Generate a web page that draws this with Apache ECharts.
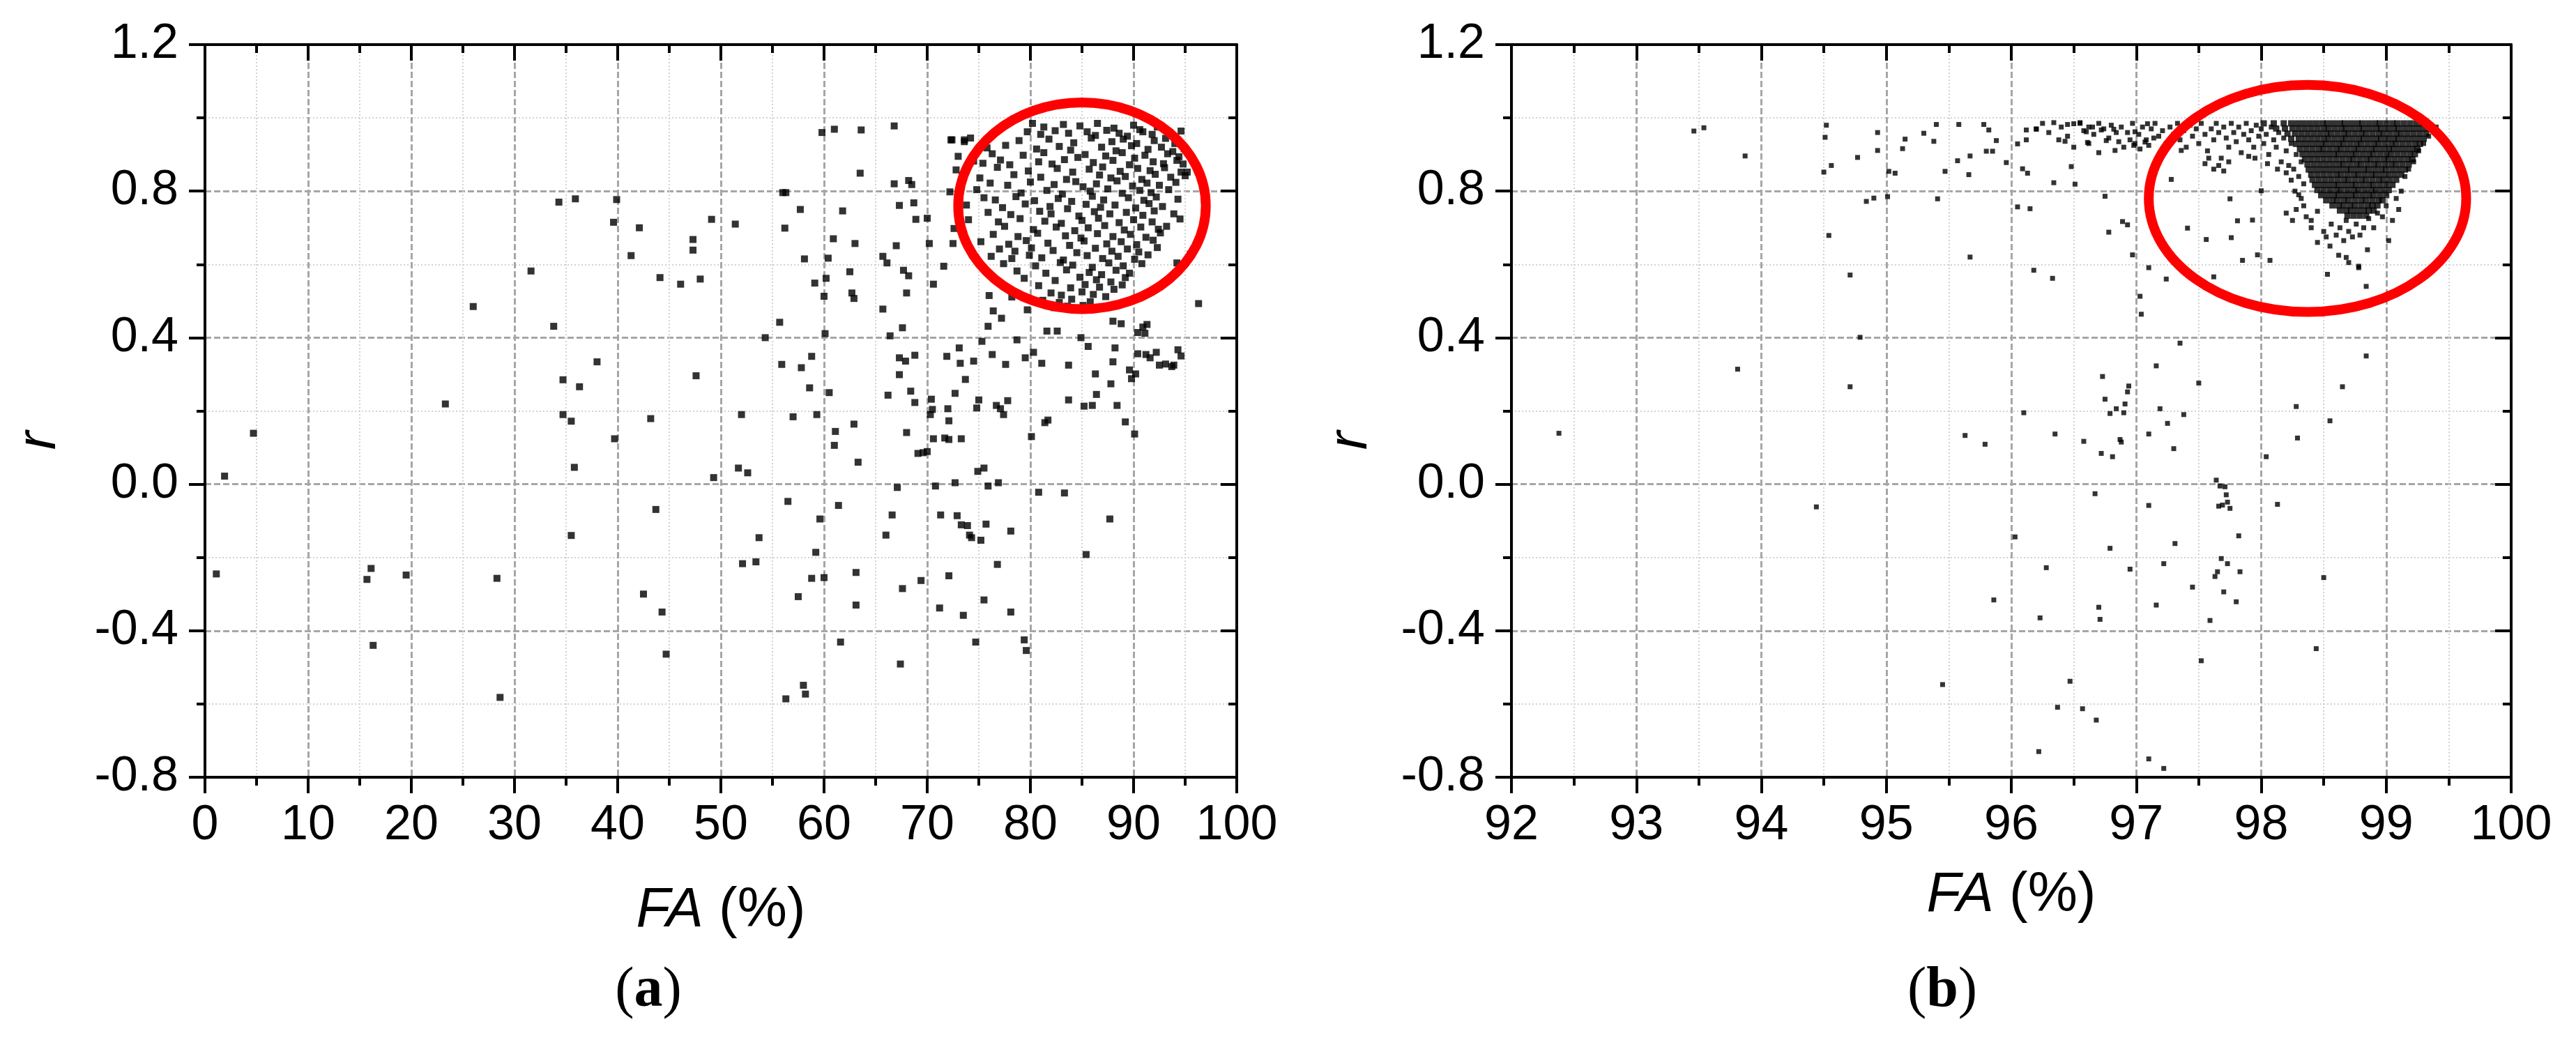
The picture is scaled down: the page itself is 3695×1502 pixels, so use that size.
<!DOCTYPE html>
<html>
<head>
<meta charset="utf-8">
<title>FA vs r</title>
<script src="https://cdn.jsdelivr.net/npm/echarts@6/dist/echarts.min.js"></script>
<style>
  html, body { margin: 0; padding: 0; background: #fff; }
  #chart { width: 3695px; height: 1502px; }
</style>
</head>
<body>
<div id="chart"></div>
<script>
// panel (a): FA from 0 to 100 %
const xTicksA = [0, 100, 10];
// panel (b): FA from 92 to 100 %
const xTicksB = [92, 100, 1];
const yTicks = [-0.8, 1.2, 0.4];

// panel (a), scattered points [FA, r]
const leftSparse = [
  [1.1,-0.245],[1.9,0.022],[4.7,0.139],[15.7,-0.26],[16.1,-0.23],[16.3,-0.44],[19.5,-0.248],[23.3,0.219],
  [26.0,0.485],[28.3,-0.257],[28.6,-0.582],[31.6,0.582],[33.8,0.431],[34.3,0.77],[34.7,0.285],[34.7,0.19],
  [35.5,0.172],[35.9,0.779],[35.8,0.046],[35.5,-0.14],[36.3,0.266],[38.0,0.334],[39.6,0.715],[39.9,0.777],
  [39.7,0.124],[41.3,0.624],[42.1,0.7],[42.5,-0.30],[43.2,0.179],[43.7,-0.069],[44.1,0.564],[44.3,-0.349],
  [44.7,-0.464],[46.1,0.546],[47.3,0.668],[47.3,0.639],[47.6,0.296],[48.0,0.56],[49.1,0.723],[49.3,0.018],
  [51.4,0.71],[51.7,0.044],[52.0,0.19],[52.1,-0.217],[52.6,0.031],[53.4,-0.212],[53.7,-0.146],[54.3,0.40],
  [55.7,0.442],[55.9,0.327],[56.0,0.796],[56.3,0.796],[56.2,0.699],[56.3,-0.586],[56.5,-0.047],[57.0,0.184],
  [57.5,-0.307],[57.7,0.75],[57.8,0.318],[58.0,-0.549],[58.2,-0.573],[58.1,0.615],[58.6,0.263],[58.8,0.349],
  [58.8,-0.257],[59.2,-0.186],[59.1,0.549],[59.3,0.19],[59.6,-0.095],[59.8,0.96],[60.0,-0.255],[60.0,0.513],
  [60.1,0.411],[60.2,0.562],[60.4,0.617],[60.5,0.25],[60.9,0.67],[61.0,0.969],[61.0,0.106],[61.1,0.144],
  [61.4,-0.058],[61.6,-0.431],[61.8,0.746],[62.5,0.58],[62.7,0.522],[62.9,0.507],[62.9,0.164],[63.0,0.657],
  [63.1,-0.241],[63.1,-0.33],[63.3,0.06],[63.6,0.967],[63.5,0.849],[65.7,0.478],[65.7,0.622],[66.1,0.604],
  [66.0,-0.139],[66.2,0.243],[66.4,0.405],[66.6,-0.084],[66.8,0.978],[66.8,0.82],[67.0,0.651],[67.1,-0.009],
  [67.3,0.761],[67.3,0.299],[67.3,0.345],[67.4,-0.491],[67.6,0.427],[67.6,-0.285],[67.7,0.584],[67.9,0.336],
  [68.0,0.522],[68.0,0.141],[68.2,0.829],[68.2,0.569],[68.4,0.254],[68.5,0.818],[68.7,0.768],[68.8,0.223],
  [68.8,0.352],[68.9,0.723],[69.1,0.084],[69.4,-0.263],[69.6,0.086],[70.0,0.089],[70.0,0.726],[70.2,0.657],
  [70.3,0.19],[70.4,0.232],[70.5,0.204],[70.6,0.546],[70.6,0.124],[70.8,-0.005],[71.2,-0.338],[71.3,-0.084],
  [71.6,0.595],[71.7,0.126],[71.9,0.349],[72.0,0.206],[72.1,-0.25],[72.1,0.122],[72.1,0.173],[72.3,0.94],
  [72.5,0.657],[72.7,0.248],[72.7,0.004],[72.9,-0.086],[73.1,0.372],[73.2,0.33],[73.3,0.124],[73.3,-0.111],
  [73.5,-0.358],[73.6,0.94],[73.7,0.286],[73.9,-0.113],[74.1,-0.139],[74.3,-0.146],[74.5,0.336],[74.7,-0.431],
  [74.8,0.208],[74.9,0.035],[75.0,0.23],[75.2,-0.153],[75.3,0.39],[75.5,-0.316],[75.5,0.044],[75.7,-0.109],
  [75.9,-0.005],[75.9,0.431],[76.0,0.515],[76.3,0.354],[76.4,0.473],[76.7,0.215],[76.8,-0.219],[76.9,0.004],
  [77.1,0.206],[77.2,0.453],[77.4,0.19],[77.6,0.327],[77.8,0.228],[78.1,-0.128],[78.1,-0.349],[78.2,0.511],
  [78.7,0.394],[79.4,-0.425],[79.5,0.345],[79.6,-0.454],[79.7,0.476],[80.1,0.13],[80.3,0.36],[80.8,-0.022],
  [81.1,0.33],[81.4,0.168],[81.7,0.175],[81.6,0.418],[82.6,0.418],[83.3,-0.024],[83.7,0.325],[83.7,0.23],
  [84.9,0.40],[85.2,0.213],[85.6,0.376],[85.4,-0.192],[86.0,0.215],[86.3,0.301],[86.4,0.245],[87.7,-0.095],
  [87.8,0.274],[88.0,0.334],[88.0,0.445],[88.2,0.372],[88.4,0.215],[88.8,0.438],[89.2,0.17],[89.6,0.312],
  [89.8,0.288],[90.1,0.137],[90.2,0.301],[90.4,0.356],[90.4,0.414],[90.9,0.429],[91.1,0.412],[91.3,0.436],
  [91.2,0.354],[91.6,0.345],[92.2,0.36],[92.5,0.325],[93.1,0.328],[93.7,0.321],[93.9,0.325],[94.3,0.367],
  [94.6,0.35],[95.5,0.628],[96.3,0.493],[94.2,0.604],[95.2,0.852],[94.8,0.874],[94.6,0.964]
];

// panel (a), crowded points inside the circle
const leftCluster = [
  [80.2,0.985],[81.3,0.975],[83.2,0.982],[84.8,0.978],[86.5,0.985],[88.1,0.972],[90.0,0.98],[90.6,0.968],[92.3,0.975],
  [79.7,0.962],[81.0,0.955],[82.4,0.965],[83.7,0.958],[85.5,0.962],[86.3,0.952],[87.4,0.966],[88.6,0.958],[89.4,0.95],
  [90.9,0.962],[91.8,0.955],[93.5,0.96],[72.4,0.94],[73.6,0.935],[74.2,0.945],[78.9,0.938],[81.8,0.942],[84.2,0.932],
  [85.9,0.945],[87.9,0.935],[89.0,0.942],[90.3,0.93],[92.0,0.938],[93.1,0.944],[94.0,0.93],[75.8,0.918],[77.6,0.925],
  [80.6,0.915],[82.8,0.922],[83.9,0.912],[86.9,0.92],[88.3,0.91],[89.8,0.924],[91.4,0.914],[92.7,0.92],[93.8,0.908],
  [94.9,0.916],[73.0,0.895],[76.3,0.902],[79.3,0.898],[81.3,0.905],[84.6,0.892],[85.3,0.9],[87.3,0.896],[88.9,0.905],
  [90.1,0.89],[91.1,0.898],[93.3,0.902],[94.4,0.894],[74.5,0.882],[75.4,0.876],[77.1,0.885],[78.0,0.872],[80.8,0.88],
  [82.1,0.874],[83.3,0.886],[86.1,0.878],[88.0,0.884],[89.6,0.872],[91.9,0.88],[92.9,0.875],[94.2,0.884],[72.8,0.858],
  [76.8,0.865],[79.8,0.855],[82.6,0.862],[84.1,0.852],[85.7,0.86],[87.0,0.866],[88.7,0.854],[90.4,0.862],[91.6,0.856],
  [93.0,0.864],[94.6,0.852],[73.4,0.842],[75.1,0.836],[78.4,0.845],[81.0,0.838],[83.5,0.832],[86.7,0.844],[87.8,0.836],
  [89.2,0.84],[90.8,0.832],[92.1,0.846],[93.6,0.838],[95.0,0.842],[76.1,0.822],[77.8,0.816],[80.0,0.825],[82.3,0.818],
  [84.4,0.826],[85.1,0.812],[86.4,0.82],[88.4,0.828],[89.9,0.814],[91.3,0.822],[92.5,0.816],[94.1,0.824],[72.2,0.798],
  [74.8,0.804],[79.1,0.795],[81.6,0.802],[83.1,0.792],[85.8,0.8],[87.5,0.806],[88.9,0.794],[90.6,0.802],[91.7,0.796],
  [93.4,0.804],[75.5,0.782],[76.6,0.776],[78.6,0.785],[80.4,0.774],[82.7,0.78],[84.0,0.772],[86.0,0.786],[87.1,0.776],
  [89.5,0.782],[91.0,0.775],[92.2,0.784],[94.3,0.778],[73.8,0.762],[77.3,0.755],[79.5,0.765],[81.9,0.758],[83.6,0.752],
  [85.4,0.764],[86.8,0.756],[88.2,0.762],[90.2,0.754],[91.5,0.766],[92.8,0.758],[75.9,0.742],[78.1,0.736],[80.9,0.745],
  [82.0,0.738],[84.7,0.732],[86.2,0.744],[87.7,0.738],[89.3,0.742],[90.9,0.734],[92.0,0.746],[93.9,0.738],[74.0,0.722],
  [76.9,0.716],[79.0,0.725],[81.4,0.718],[83.0,0.712],[85.0,0.72],[86.6,0.726],[88.6,0.714],[90.0,0.722],[91.8,0.716],
  [94.5,0.724],[72.6,0.698],[77.5,0.704],[80.3,0.695],[82.5,0.702],[84.3,0.692],[85.6,0.7],[87.2,0.706],[89.1,0.694],
  [90.7,0.702],[92.4,0.696],[93.2,0.704],[76.4,0.682],[78.8,0.676],[80.7,0.685],[83.4,0.678],[84.9,0.672],[86.5,0.684],
  [88.0,0.676],[89.7,0.682],[91.2,0.674],[92.6,0.686],[75.2,0.662],[77.9,0.655],[79.6,0.665],[81.7,0.658],[83.8,0.652],
  [85.2,0.664],[87.4,0.656],[88.8,0.662],[90.3,0.654],[91.9,0.666],[77.0,0.642],[78.5,0.636],[80.1,0.645],[82.2,0.638],
  [84.5,0.632],[86.3,0.644],[87.9,0.636],[89.4,0.642],[90.5,0.634],[92.3,0.646],[76.2,0.622],[78.2,0.616],[79.9,0.625],
  [81.1,0.618],[83.2,0.612],[85.5,0.624],[87.0,0.616],[88.5,0.622],[90.1,0.614],[91.4,0.626],[77.4,0.602],[80.5,0.596],
  [82.9,0.605],[84.1,0.598],[86.0,0.592],[87.6,0.604],[89.0,0.596],[90.8,0.602],[78.7,0.582],[81.5,0.576],[83.5,0.585],
  [85.7,0.578],[86.9,0.572],[88.3,0.584],[89.6,0.576],[79.4,0.562],[82.4,0.556],[84.8,0.565],[86.4,0.558],[87.8,0.552],
  [89.2,0.564],[80.8,0.542],[83.9,0.536],[85.3,0.545],[86.7,0.538],[88.1,0.532],[88.9,0.544],[82.0,0.522],[83.0,0.516],
  [85.0,0.525],[86.1,0.518],[87.3,0.512],[81.2,0.502],[82.8,0.496],[84.0,0.505],[85.8,0.498],[82.3,0.482],[83.6,0.486],
  [84.6,0.478],[85.1,0.488]
];

// panel (b), scattered points [FA, r]
const rightSparse = [
  [92.38,0.139],[93.46,0.964],[93.54,0.973],[93.81,0.314],[93.87,0.896],[94.44,-0.062],[94.50,0.852],[94.51,0.947],
  [94.52,0.98],[94.54,0.679],[94.56,0.87],[94.71,0.571],[94.71,0.266],[94.77,0.892],[94.79,0.401],[94.84,0.772],
  [94.90,0.781],[94.93,0.96],[94.93,0.911],[95.01,0.785],[95.02,0.854],[95.07,0.849],[95.13,0.916],[95.15,0.942],
  [95.30,0.958],[95.38,0.936],[95.40,0.982],[95.41,0.779],[95.45,-0.547],[95.47,0.854],[95.57,0.883],[95.58,0.982],
  [95.63,0.133],[95.66,0.845],[95.67,0.62],[95.67,0.896],[95.78,0.982],[95.79,0.109],[95.80,0.909],[95.82,0.967],
  [95.85,0.909],[95.86,-0.316],[95.88,0.938],[95.96,0.878],[96.03,-0.144],[96.05,0.929],[96.05,0.757],[96.09,0.861],
  [96.10,0.195],[96.12,0.94],[96.12,0.967],[96.13,0.849],[96.15,0.752],[96.18,0.584],[96.20,0.969],[96.22,-0.73],
  [96.23,-0.365],[96.28,-0.228],[96.33,0.562],[96.34,0.823],[96.35,0.137],[96.34,0.987],[96.37,-0.609],[96.38,0.94],
  [96.43,0.936],[96.45,0.982],[96.47,-0.538],[96.48,0.867],[96.50,0.984],[96.51,0.819],[96.55,0.987],[96.57,-0.613],
  [96.58,0.117],[96.60,0.962],[96.61,0.933],[96.65,0.975],[96.67,-0.026],[96.68,-0.644],[96.70,-0.336],[96.71,-0.369],
  [96.72,0.084],[96.72,0.967],[96.73,0.294],[96.75,0.786],[96.75,0.232],[96.76,0.938],[96.78,0.688],[96.79,-0.175],
  [96.79,0.193],[96.81,0.075],[96.82,0.969],[96.83,0.911],[96.84,0.206],[96.87,0.122],[96.88,0.115],[96.89,0.717],
  [96.90,0.195],[96.91,0.219],[96.93,0.708],[96.93,0.252],[96.94,0.268],[96.95,-0.232],[96.97,0.626],[96.98,0.925],
  [96.99,0.962],[97.03,0.513],[97.04,0.464],[97.07,0.934],[97.09,0.984],[97.10,-0.058],[97.10,-0.75],[97.10,0.591],
  [97.10,0.137],[97.16,0.323],[97.16,-0.33],[97.19,0.206],[97.22,-0.217],[97.22,-0.776],[97.24,0.56],[97.25,0.166],
  [97.28,0.832],[97.30,0.097],[97.31,-0.162],[97.35,0.385],[97.38,0.19],[97.41,0.699],[97.45,-0.281],[97.50,0.276],
  [97.52,-0.482],[97.56,0.668],[97.59,-0.372],[97.62,0.566],[97.63,-0.252],[97.64,0.011],[97.65,-0.239],[97.66,-0.06],
  [97.67,-0.005],[97.68,-0.203],[97.69,-0.057],[97.70,-0.294],[97.71,-0.007],[97.72,-0.029],[97.73,-0.049],[97.73,-0.217],
  [97.75,-0.066],[97.76,0.673],[97.75,0.779],[97.80,-0.321],[97.81,0.719],[97.82,-0.141],[97.83,-0.239],[97.85,0.611],
  [97.93,0.721],[97.97,0.626],[98.00,0.801],[98.04,0.075],[98.07,0.611],[98.13,-0.055],[98.28,0.212],[98.29,0.126],
  [98.44,-0.449],[98.50,-0.255],[98.53,0.573],[98.55,0.173],[98.65,0.266],[98.78,0.591],[98.84,0.540],[98.84,0.350],
  [98.68,0.619]
];

// panel (b), the dotted band along the top
const rightBand = [
  [96.20,0.97],[96.25,0.985],[96.30,0.96],[96.40,0.975],[96.45,0.95],[96.50,0.92],[96.55,0.985],[96.58,0.965],
  [96.62,0.975],[96.62,0.93],[96.66,0.955],[96.70,0.985],[96.70,0.905],[96.74,0.97],[96.78,0.945],[96.80,0.98],
  [96.84,0.96],[96.86,0.935],[96.88,0.975],[96.90,0.92],[96.93,0.96],[96.95,0.94],[96.97,0.985],[96.99,0.93],
  [97.02,0.955],[97.03,0.915],[97.05,0.975],[97.08,0.94],[97.10,0.925],[97.12,0.97],[97.14,0.945],[97.15,0.985],
  [97.18,0.95],[97.21,0.965],[97.24,0.93],[97.27,0.975],[97.30,0.955],[97.33,0.985],[97.35,0.94],[97.36,0.911],
  [97.38,0.965],[97.40,0.92],[97.43,0.98],[97.45,0.95],[97.48,0.97],[97.50,0.93],[97.52,0.985],[97.55,0.955],
  [97.55,0.875],[97.57,0.91],[97.58,0.89],[97.60,0.97],[97.62,0.94],[97.62,0.86],[97.64,0.985],[97.66,0.96],
  [97.66,0.87],[97.68,0.89],[97.70,0.975],[97.70,0.855],[97.72,0.945],[97.74,0.92],[97.74,0.88],[97.76,0.985],
  [97.78,0.96],[97.80,0.935],[97.82,0.975],[97.84,0.905],[97.86,0.955],[97.88,0.985],[97.90,0.94],[97.90,0.895],
  [97.92,0.965],[97.94,0.92],[97.95,0.89],[97.96,0.98],[97.98,0.95],[98.00,0.97],[98.02,0.93],[98.04,0.955],
  [98.05,0.875],[98.06,0.90],[98.08,0.975],[98.10,0.94],[98.12,0.92],[98.13,0.86],[98.14,0.96],[98.16,0.88],
  [98.18,0.945],[98.20,0.91],[98.20,0.85],[98.22,0.87],[98.24,0.93],[98.24,0.83],[98.26,0.86],[98.27,0.80],
  [98.28,0.90],[98.30,0.84],[98.30,0.79],[98.32,0.88],[98.34,0.82],[98.34,0.76]
];

// panel (b), loose points round the solid block
const rightEdge = [
  [98.32,0.78],[98.36,0.73],[98.40,0.70],[98.45,0.745],[98.50,0.69],[98.52,0.675],[98.56,0.71],[98.60,0.68],
  [98.63,0.70],[98.66,0.665],[98.68,0.72],[98.70,0.69],[98.73,0.675],[98.76,0.71],[98.79,0.68],[98.82,0.70],
  [98.86,0.725],[98.90,0.70],[98.93,0.74],[98.97,0.73],[99.00,0.76],[99.02,0.665],[99.05,0.72],[99.08,0.78],
  [99.10,0.75],[99.12,0.80],[99.15,0.84],[99.18,0.86],[99.22,0.88],[99.26,0.91],[99.30,0.93],[99.34,0.95],
  [99.38,0.965],[99.40,0.975],[98.62,0.625],[98.70,0.605],[98.78,0.595],[98.85,0.64],[98.55,0.65],[98.45,0.66],
  [98.40,0.72],[98.28,0.75],[98.25,0.72],[98.20,0.74]
];

// panel (b), the solid black block: each row is [r, FA, FA, ...]
const rightDenseRows = [
  [0.985, 98.02,98.10,98.18,98.24,98.29,98.34,98.39,98.44,98.49,98.53,98.58,98.63,98.67,98.72,98.77,98.81,98.86,98.91,98.95,99.00,99.05,99.09,99.14,99.19,99.24,99.29],
  [0.971, 98.12,98.19,98.25,98.30,98.35,98.40,98.45,98.50,98.54,98.59,98.64,98.68,98.73,98.78,98.82,98.87,98.92,98.96,99.01,99.06,99.10,99.15,99.20,99.25,99.30,99.35],
  [0.957, 98.21,98.27,98.32,98.37,98.42,98.47,98.52,98.56,98.61,98.66,98.70,98.75,98.80,98.84,98.89,98.94,98.98,99.03,99.08,99.12,99.17,99.22,99.27,99.32],
  [0.943, 98.24,98.30,98.35,98.40,98.45,98.50,98.54,98.59,98.64,98.68,98.73,98.78,98.82,98.87,98.92,98.96,99.01,99.06,99.10,99.15,99.20,99.25,99.30],
  [0.929, 98.28,98.33,98.38,98.43,98.48,98.52,98.57,98.62,98.66,98.71,98.76,98.80,98.85,98.90,98.94,98.99,99.04,99.08,99.13,99.18,99.23,99.27],
  [0.915, 98.31,98.36,98.41,98.46,98.50,98.55,98.60,98.64,98.69,98.74,98.78,98.83,98.88,98.92,98.97,99.02,99.06,99.11,99.16,99.21,99.25],
  [0.901, 98.33,98.38,98.43,98.48,98.53,98.58,98.62,98.67,98.72,98.76,98.81,98.86,98.90,98.95,99.00,99.04,99.09,99.14,99.19,99.23],
  [0.887, 98.35,98.40,98.45,98.50,98.55,98.60,98.65,98.70,98.74,98.79,98.84,98.88,98.93,98.98,99.02,99.07,99.12,99.17,99.21],
  [0.873, 98.37,98.42,98.47,98.52,98.57,98.62,98.66,98.71,98.76,98.80,98.85,98.90,98.94,98.99,99.04,99.08,99.13,99.18],
  [0.859, 98.38,98.43,98.48,98.53,98.58,98.63,98.68,98.72,98.77,98.82,98.86,98.91,98.96,99.00,99.05,99.10,99.15],
  [0.845, 98.40,98.45,98.50,98.55,98.60,98.64,98.69,98.74,98.78,98.83,98.88,98.92,98.97,99.02,99.07,99.12],
  [0.831, 98.41,98.46,98.51,98.56,98.61,98.66,98.70,98.75,98.80,98.84,98.89,98.94,98.98,99.03,99.08],
  [0.817, 98.43,98.48,98.53,98.58,98.62,98.67,98.72,98.76,98.81,98.86,98.90,98.95,99.00,99.05],
  [0.803, 98.45,98.50,98.55,98.60,98.64,98.69,98.74,98.78,98.83,98.88,98.92,98.97,99.02],
  [0.789, 98.48,98.53,98.58,98.62,98.67,98.72,98.76,98.81,98.86,98.90,98.95,99.00],
  [0.775, 98.52,98.57,98.61,98.66,98.70,98.75,98.80,98.84,98.89,98.94,98.97],
  [0.761, 98.57,98.62,98.66,98.71,98.75,98.80,98.85,98.89,98.93],
  [0.747, 98.63,98.68,98.72,98.77,98.82,98.86,98.90],
  [0.733, 98.69,98.74,98.79,98.84]
];

// red circles: [centre FA, centre r, half width in FA, half height in r]
const circleA = [85.0, 0.76, 12.0, 0.282];
const circleB = [98.37, 0.78, 1.27, 0.31];

const SANS = '"Liberation Sans", Arial, sans-serif';
const SERIF = '"Liberation Serif", "Times New Roman", serif';

const rightDense = [];
rightDenseRows.forEach((row) => {
    row.slice(1).forEach((x) => rightDense.push([x, row[0]]));
});

const axisLine = { onZero: false, lineStyle: { color: "#000", width: 4 } };
const majorGrid = { show: true, lineStyle: { color: "#a6a6a6", width: 3, type: [9, 4] } };
const minorGrid = { show: true, lineStyle: { color: "#d2d2d2", width: 2, type: [2, 3] } };

function xAxisPair(grid, ticks, nameGap) {
    const base = {
        gridIndex: grid,
        type: "value",
        min: ticks[0],
        max: ticks[1],
        interval: ticks[2],
        axisLine: axisLine
    };
    return [
        Object.assign({}, base, {
            position: "bottom",
            axisTick: { length: 23, lineStyle: { color: "#000", width: 4 } },
            minorTick: { show: true, splitNumber: 2, length: 12, lineStyle: { color: "#000", width: 4 } },
            axisLabel: { fontSize: 70, color: "#000", fontFamily: SANS, margin: 35 },
            splitLine: majorGrid,
            minorSplitLine: minorGrid,
            name: "{i|FA} (%)",
            nameLocation: "middle",
            nameGap: nameGap,
            nameTextStyle: {
                fontSize: 80,
                fontFamily: SANS,
                color: "#000",
                rich: { i: { fontSize: 80, fontFamily: SANS, fontStyle: "italic", color: "#000" } }
            }
        }),
        Object.assign({}, base, {
            position: "top",
            axisTick: { inside: true, length: 23, lineStyle: { color: "#000", width: 4 } },
            minorTick: { show: true, splitNumber: 2, length: 12, lineStyle: { color: "#000", width: 4 } },
            axisLabel: { show: false },
            splitLine: { show: false }
        })
    ];
}

function yAxisPair(grid) {
    const base = {
        gridIndex: grid,
        type: "value",
        min: yTicks[0],
        max: yTicks[1],
        interval: yTicks[2],
        axisLine: axisLine
    };
    return [
        Object.assign({}, base, {
            position: "left",
            axisTick: { length: 23, lineStyle: { color: "#000", width: 4 } },
            minorTick: { show: true, splitNumber: 2, length: 12, lineStyle: { color: "#000", width: 4 } },
            axisLabel: {
                fontSize: 70,
                color: "#000",
                fontFamily: SANS,
                margin: 38,
                formatter: (v) => v.toFixed(1)
            },
            splitLine: majorGrid,
            minorSplitLine: minorGrid
        }),
        Object.assign({}, base, {
            position: "right",
            axisTick: { inside: true, length: 23, lineStyle: { color: "#000", width: 4 } },
            minorTick: { show: true, splitNumber: 2, length: 12, lineStyle: { color: "#000", width: 4 } },
            axisLabel: { show: false },
            splitLine: { show: false }
        })
    ];
}

function circleItem(params, api) {
    const c = api.coord([api.value(0), api.value(1)]);
    const s = api.size([api.value(2), api.value(3)]);
    return {
        type: "ellipse",
        shape: { cx: c[0], cy: c[1], rx: s[0], ry: s[1] },
        style: { fill: "none", stroke: "#ff0000", lineWidth: 14 }
    };
}

function dots(data, xi, yi, size) {
    return {
        type: "scatter",
        xAxisIndex: xi,
        yAxisIndex: yi,
        data: data,
        symbol: "rect",
        symbolSize: size,
        itemStyle: { color: "#000" },
        silent: true
    };
}

function label(text, x, y, rotate) {
    return {
        type: "text",
        x: x,
        y: y,
        rotation: rotate ? Math.PI / 2 : 0,
        style: {
            text: text,
            fontSize: 80,
            fontFamily: SANS,
            fontStyle: "italic",
            fill: "#000",
            align: "center",
            verticalAlign: "middle"
        }
    };
}

function panelTag(letter, x) {
    return {
        type: "text",
        x: x,
        y: 1422,
        style: {
            text: "{p|(}{b|" + letter + "}{p|)}",
            align: "center",
            verticalAlign: "middle",
            rich: {
                p: { fontSize: 82, fontFamily: SERIF, fill: "#000" },
                b: { fontSize: 82, fontFamily: SERIF, fontWeight: "bold", fill: "#000" }
            }
        }
    };
}

const chart = echarts.init(document.getElementById("chart"));
chart.setOption({
    animation: false,
    backgroundColor: "#fff",
    grid: [
        { left: 294, top: 64, width: 1480, height: 1051 },
        { left: 2168, top: 64, width: 1434, height: 1051 }
    ],
    xAxis: xAxisPair(0, xTicksA, 152).concat(xAxisPair(1, xTicksB, 130)),
    yAxis: yAxisPair(0).concat(yAxisPair(1)),
    series: [
        dots(leftSparse, 0, 0, 10),
        dots(leftCluster, 0, 0, 10),
        dots(rightSparse, 2, 2, 7),
        dots(rightBand, 2, 2, 7),
        dots(rightEdge, 2, 2, 7),
        dots(rightDense, 2, 2, 9),
        {
            type: "custom",
            xAxisIndex: 0,
            yAxisIndex: 0,
            data: [circleA],
            renderItem: circleItem,
            silent: true,
            z: 5
        },
        {
            type: "custom",
            xAxisIndex: 2,
            yAxisIndex: 2,
            data: [circleB],
            renderItem: circleItem,
            silent: true,
            z: 5
        }
    ],
    graphic: [
        label("r", 57, 632, true),
        label("r", 1938, 632, true),
        panelTag("a", 930),
        panelTag("b", 2786)
    ]
});
</script>
</body>
</html>
